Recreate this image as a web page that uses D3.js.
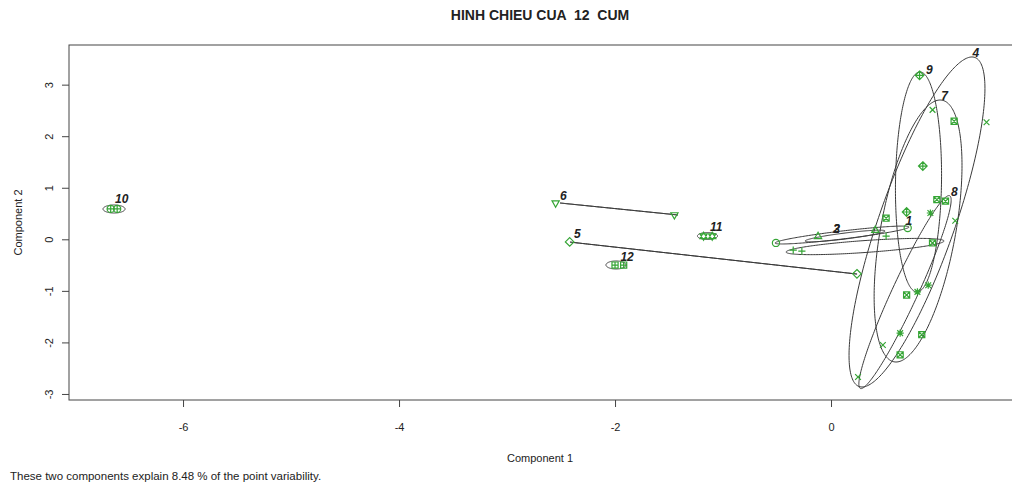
<!DOCTYPE html>
<html><head><meta charset="utf-8">
<script src="https://cdn.jsdelivr.net/npm/d3@7"></script>
<style>body{margin:0;background:#fff}svg{display:block}text{font-family:"Liberation Sans",Arial,sans-serif;fill:#222;white-space:pre}</style>
</head><body><svg id="c" width="1012" height="484"></svg>
<script>
// ---- data ----
const title = "HINH CHIEU CUA  12  CUM";
const xLabel = "Component 1";
const yLabel = "Component 2";
const subText = "These two components explain 8.48 % of the point variability.";
const xTicks = [-6, -4, -2, 0];
const yTicks = [-3, -2, -1, 0, 1, 2, 3];
const xDomain = [-7.056, 1.685];
const yDomain = [-3.117, 3.769];

const clusterNames = ["1","2","3","4","5","6","7","8","9","10","11","12"];
// points: cluster id, component 1, component 2
const pointCluster = [1,1, 2,2, 3,3,3, 4,4,4,4,4, 5,5, 6,6, 7,7,7,7,7,7,7,7, 8,8,8,8, 9,9,9, 10,10, 11,11, 12,12];
const pointX = [-0.51,0.71, -0.12,0.41, -0.35,-0.27,0.51, 1.44,0.94,1.15,0.25,0.48, -2.42,0.24, -2.55,-1.45,
  1.14,0.98,1.06,0.51,0.70,0.84,0.64,0.94, 0.64,0.80,0.90,0.92, 0.82,0.85,0.70, -6.67,-6.61, -1.18,-1.10, -2.00,-1.92];
const pointY = [-0.07,0.22, 0.06,0.18, -0.21,-0.23,0.06, 2.27,2.51,0.36,-2.67,-2.05, -0.05,-0.67, 0.70,0.47,
  2.29,0.77,0.74,0.41,-1.08,-1.85,-2.24,-0.07, -1.82,-1.02,-0.89,0.51, 3.18,1.42,0.53, 0.59,0.59, 0.06,0.06, -0.50,-0.50];

// cluster ellipses: centre and two conjugate half-axis vectors (data units)
const ellCX = [0.102, 0.130, 0.315, 0.796, -1.088, -1.963, 0.806, 0.685, 0.810, -6.639, -1.144, -1.991];
const ellCY = [0.083, 0.064, -0.140, 0.336, -0.364, 0.588, 0.161, -1.024, 1.112, 0.588, 0.064, -0.498];
const ellUX = [0.620, 0.370, 0.731, 0.509, 1.329, 0.546, 0.204, 0.407, 0.014, 0.102, 0.093, 0.093];
const ellUY = [0.155, 0.097, 0.107, 3.201, -0.310, -0.116, 2.541, 1.872, 2.134, 0, 0, 0];
const ellVX = [0, 0, 0, 0.370, 0, 0, 0.352, 0.130, 0.213, 0, 0, 0];
const ellVY = [0.078, 0.058, 0.116, 0, 0, 0, 0, 0, 0, 0.078, 0.068, 0.078];

// cluster label positions (data units)
const labelX = [0.69, 0.02, 0.02, 1.31, -2.38, -2.51, 1.02, 1.11, 0.88, -6.63, -1.12, -1.95];
const labelY = [0.28, 0.12, 0.12, 3.54, 0.03, 0.76, 2.70, 0.84, 3.21, 0.70, 0.16, -0.42];

// ---- drawing ----
const svg = d3.select("#c");
const L = 69, R = 1013, T = 45, B = 400;
const x = d3.scaleLinear().domain(xDomain).range([L, R]);
const y = d3.scaleLinear().domain(yDomain).range([B, T]);
const fmt = d => String(d);

svg.append("text").attr("x", 540).attr("y", 20).attr("text-anchor", "middle")
  .style("font-size", "14px").style("font-weight", "bold").text(title);

const plot = svg.append("g");
plot.append("rect").attr("x", L).attr("y", T).attr("width", R - L).attr("height", B - T)
  .attr("fill", "none").attr("stroke", "#444").attr("stroke-width", 1);

const xa = svg.append("g").attr("transform", `translate(0,${B})`)
  .call(d3.axisBottom(x).tickValues(xTicks).tickSize(7).tickPadding(16).tickFormat(fmt));
xa.select(".domain").remove();
xa.selectAll("line").attr("stroke", "#444");
xa.selectAll("text").style("font-size", "11px").attr("fill", "#222");

const ya = svg.append("g").attr("transform", `translate(${L},0)`)
  .call(d3.axisLeft(y).tickValues(yTicks).tickSize(7).tickFormat(fmt));
ya.select(".domain").remove();
ya.selectAll("line").attr("stroke", "#444");
ya.selectAll("text").attr("x", null).attr("dy", null).attr("text-anchor", "middle")
  .attr("transform", "translate(-16,0) rotate(-90)").attr("y", 0)
  .style("font-size", "11px").attr("fill", "#222");

svg.append("text").attr("x", 540).attr("y", 462).attr("text-anchor", "middle")
  .style("font-size", "11px").text(xLabel);
svg.append("text").attr("transform", `translate(22,${(T + B) / 2}) rotate(-90)`).attr("text-anchor", "middle")
  .style("font-size", "11px").text(yLabel);
svg.append("text").attr("x", 10).attr("y", 480).style("font-size", "11.5px").text(subText);

// ellipses
const line = d3.line().x(d => x(d[0])).y(d => y(d[1])).curve(d3.curveLinearClosed);
clusterNames.forEach((n, i) => {
  const pts = d3.range(0, 240).map(k => {
    const t = k / 240 * 2 * Math.PI;
    return [ellCX[i] + ellUX[i] * Math.cos(t) + ellVX[i] * Math.sin(t),
            ellCY[i] + ellUY[i] * Math.cos(t) + ellVY[i] * Math.sin(t)];
  });
  plot.append("path").attr("d", line(pts)).attr("fill", "none").attr("stroke", "#3a3a3a").attr("stroke-width", 1);
});

// point symbols (R pch 1..12)
function sym(p, s) {
  const c = `M${s},0A${s},${s} 0 1,1 ${-s},0A${s},${s} 0 1,1 ${s},0`;
  const plus = `M${-s},0H${s}M0,${-s}V${s}`;
  const cross = `M${-s*0.8},${-s*0.8}L${s*0.8},${s*0.8}M${-s*0.8},${s*0.8}L${s*0.8},${-s*0.8}`;
  const tri = `M0,${-s*1.1}L${s},${s*0.65}L${-s},${s*0.65}Z`;
  const trd = `M0,${s*1.1}L${s},${-s*0.65}L${-s},${-s*0.65}Z`;
  const dia = `M0,${-s*1.2}L${s*1.2},0L0,${s*1.2}L${-s*1.2},0Z`;
  const sq = `M${-s*0.85},${-s*0.85}H${s*0.85}V${s*0.85}H${-s*0.85}Z`;
  switch (p) {
    case 1: return c; case 2: return tri; case 3: return plus; case 4: return cross;
    case 5: return dia; case 6: return trd;
    case 7: return sq + `M${-s*0.85},${-s*0.85}L${s*0.85},${s*0.85}M${-s*0.85},${s*0.85}L${s*0.85},${-s*0.85}`;
    case 8: return plus + cross;
    case 9: return dia + `M${-s*1.2},0H${s*1.2}M0,${-s*1.2}V${s*1.2}`;
    case 10: return c + plus;
    case 11: return tri + trd;
    case 12: return sq + `M${-s*0.85},0H${s*0.85}M0,${-s*0.85}V${s*0.85}`;
  }
}
pointCluster.forEach((cl, i) => {
  plot.append("path").attr("d", sym(cl, 3.6))
    .attr("transform", `translate(${x(pointX[i])},${y(pointY[i])})`)
    .attr("fill", "none").attr("stroke", "#35a535").attr("stroke-width", 1.2);
});

// labels
clusterNames.forEach((n, i) => {
  svg.append("text").attr("x", x(labelX[i])).attr("y", y(labelY[i]))
    .style("font-size", "12px").style("font-style", "italic").style("font-weight", "bold")
    .attr("fill", "#222").text(n);
});
</script></body></html>
